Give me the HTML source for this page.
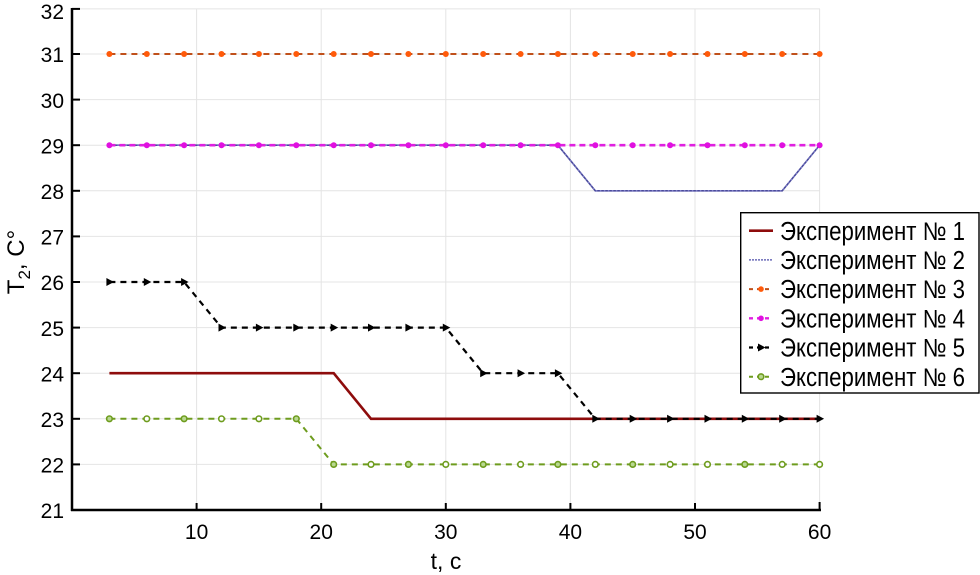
<!DOCTYPE html>
<html><head><meta charset="utf-8"><style>
html,body{margin:0;padding:0;background:#fff;}
svg{display:block;}
text{font-family:"Liberation Sans",Arial,sans-serif;fill:#000;}
</style></head><body>
<svg width="980" height="575" viewBox="0 0 980 575" xmlns="http://www.w3.org/2000/svg">
<!-- grid -->
<g stroke="#e4e4e4" stroke-width="1">
<line x1="72" y1="464.4" x2="820" y2="464.4"/>
<line x1="72" y1="418.8" x2="820" y2="418.8"/>
<line x1="72" y1="373.2" x2="820" y2="373.2"/>
<line x1="72" y1="327.6" x2="820" y2="327.6"/>
<line x1="72" y1="282" x2="820" y2="282"/>
<line x1="72" y1="236.4" x2="820" y2="236.4"/>
<line x1="72" y1="190.8" x2="820" y2="190.8"/>
<line x1="72" y1="145.2" x2="820" y2="145.2"/>
<line x1="72" y1="99.6" x2="820" y2="99.6"/>
<line x1="72" y1="54" x2="820" y2="54"/>
<line x1="72" y1="8.9" x2="820" y2="8.9"/>
<line x1="196.6" y1="9" x2="196.6" y2="510"/>
<line x1="321.2" y1="9" x2="321.2" y2="510"/>
<line x1="445.8" y1="9" x2="445.8" y2="510"/>
<line x1="570.4" y1="9" x2="570.4" y2="510"/>
<line x1="695" y1="9" x2="695" y2="510"/>
<line x1="819.6" y1="9" x2="819.6" y2="510"/>
</g>
<!-- axes -->
<g stroke="#000" stroke-width="2.5" fill="none">
<line x1="72" y1="8" x2="72" y2="511"/>
<line x1="71" y1="510" x2="821" y2="510"/>
</g>
<g stroke="#000" stroke-width="2">
<line x1="72" y1="8.9" x2="80" y2="8.9"/>
<line x1="72" y1="54" x2="80" y2="54"/>
<line x1="72" y1="99.6" x2="80" y2="99.6"/>
<line x1="72" y1="145.2" x2="80" y2="145.2"/>
<line x1="72" y1="190.8" x2="80" y2="190.8"/>
<line x1="72" y1="236.4" x2="80" y2="236.4"/>
<line x1="72" y1="282" x2="80" y2="282"/>
<line x1="72" y1="327.6" x2="80" y2="327.6"/>
<line x1="72" y1="373.2" x2="80" y2="373.2"/>
<line x1="72" y1="418.8" x2="80" y2="418.8"/>
<line x1="72" y1="464.4" x2="80" y2="464.4"/>
<line x1="196.6" y1="510" x2="196.6" y2="503"/>
<line x1="321.2" y1="510" x2="321.2" y2="503"/>
<line x1="445.8" y1="510" x2="445.8" y2="503"/>
<line x1="570.4" y1="510" x2="570.4" y2="503"/>
<line x1="695" y1="510" x2="695" y2="503"/>
<line x1="819.6" y1="510" x2="819.6" y2="502"/>
</g>
<!-- tick labels -->
<g font-size="21" text-anchor="end">
<text x="64" y="18.8">32</text>
<text x="64" y="62.2">31</text>
<text x="64" y="107.8">30</text>
<text x="64" y="153.4">29</text>
<text x="64" y="199">28</text>
<text x="64" y="244.6">27</text>
<text x="64" y="290.2">26</text>
<text x="64" y="335.8">25</text>
<text x="64" y="381.4">24</text>
<text x="64" y="427">23</text>
<text x="64" y="472.6">22</text>
<text x="64" y="518.2">21</text>
</g>
<g font-size="21" text-anchor="middle">
<text x="196.6" y="538.8">10</text>
<text x="321.2" y="538.8">20</text>
<text x="445.8" y="538.8">30</text>
<text x="570.4" y="538.8">40</text>
<text x="695" y="538.8">50</text>
<text x="819.6" y="538.8">60</text>
</g>
<text x="446" y="569" font-size="23" text-anchor="middle">t, c</text>
<text transform="translate(24,262) rotate(-90)" text-anchor="middle" font-size="24">T<tspan font-size="17" dy="6">2</tspan><tspan dy="-6">, C°</tspan></text>

<!-- Exp 1 -->
<polyline fill="none" stroke="#8e0c0c" stroke-width="2.6" points="109.4,373.2 333.7,373.2 371,418.8 819.6,418.8"/>
<!-- Exp 2 -->
<polyline fill="none" stroke="#4a4a9c" stroke-width="1.6" points="109.4,145.2 557.9,145.2 595.3,190.8 782.2,190.8 819.6,145.2"/>
<polyline fill="none" stroke="#8080c8" stroke-width="1.6" stroke-dasharray="1.5 2.5" points="109.4,145.2 557.9,145.2 595.3,190.8 782.2,190.8 819.6,145.2"/>
<!-- Exp 3 -->
<line x1="109.4" y1="54" x2="819.6" y2="54" stroke="#c0501a" stroke-width="2" stroke-dasharray="6 5"/>
<g fill="#ff5a0a">
<circle cx="109.4" cy="54" r="3"/><circle cx="146.8" cy="54" r="3"/><circle cx="184.1" cy="54" r="3"/><circle cx="221.5" cy="54" r="3"/><circle cx="258.9" cy="54" r="3"/><circle cx="296.3" cy="54" r="3"/><circle cx="333.7" cy="54" r="3"/><circle cx="371" cy="54" r="3"/><circle cx="408.4" cy="54" r="3"/><circle cx="445.8" cy="54" r="3"/><circle cx="483.2" cy="54" r="3"/><circle cx="520.6" cy="54" r="3"/><circle cx="557.9" cy="54" r="3"/><circle cx="595.3" cy="54" r="3"/><circle cx="632.7" cy="54" r="3"/><circle cx="670.1" cy="54" r="3"/><circle cx="707.5" cy="54" r="3"/><circle cx="744.8" cy="54" r="3"/><circle cx="782.2" cy="54" r="3"/><circle cx="819.6" cy="54" r="3"/>
</g>
<!-- Exp 4 -->
<line x1="109.4" y1="145.2" x2="819.6" y2="145.2" stroke="#e020e0" stroke-width="2.6" stroke-dasharray="6 4"/>
<g fill="#e010e0">
<circle cx="109.4" cy="145.2" r="3"/><circle cx="146.8" cy="145.2" r="3"/><circle cx="184.1" cy="145.2" r="3"/><circle cx="221.5" cy="145.2" r="3"/><circle cx="258.9" cy="145.2" r="3"/><circle cx="296.3" cy="145.2" r="3"/><circle cx="333.7" cy="145.2" r="3"/><circle cx="371" cy="145.2" r="3"/><circle cx="408.4" cy="145.2" r="3"/><circle cx="445.8" cy="145.2" r="3"/><circle cx="483.2" cy="145.2" r="3"/><circle cx="520.6" cy="145.2" r="3"/><circle cx="557.9" cy="145.2" r="3"/><circle cx="595.3" cy="145.2" r="3"/><circle cx="632.7" cy="145.2" r="3"/><circle cx="670.1" cy="145.2" r="3"/><circle cx="707.5" cy="145.2" r="3"/><circle cx="744.8" cy="145.2" r="3"/><circle cx="782.2" cy="145.2" r="3"/><circle cx="819.6" cy="145.2" r="3"/>
</g>
<!-- Exp 5 -->
<polyline fill="none" stroke="#000" stroke-width="2.2" stroke-dasharray="6 5" points="109.4,282 184.1,282 221.5,327.6 445.8,327.6 483.2,373.2 557.9,373.2 595.3,418.8 819.6,418.8"/>
<g fill="#000">
<path d="M106.4,278 l7.5,4 -7.5,4z"/><path d="M143.8,278 l7.5,4 -7.5,4z"/><path d="M181.1,278 l7.5,4 -7.5,4z"/>
<path d="M218.5,323.6 l7.5,4 -7.5,4z"/><path d="M255.9,323.6 l7.5,4 -7.5,4z"/><path d="M293.3,323.6 l7.5,4 -7.5,4z"/><path d="M330.7,323.6 l7.5,4 -7.5,4z"/><path d="M368,323.6 l7.5,4 -7.5,4z"/><path d="M405.4,323.6 l7.5,4 -7.5,4z"/><path d="M442.8,323.6 l7.5,4 -7.5,4z"/>
<path d="M480.2,369.2 l7.5,4 -7.5,4z"/><path d="M517.6,369.2 l7.5,4 -7.5,4z"/><path d="M554.9,369.2 l7.5,4 -7.5,4z"/>
<path d="M592.3,414.8 l7.5,4 -7.5,4z"/><path d="M629.7,414.8 l7.5,4 -7.5,4z"/><path d="M667.1,414.8 l7.5,4 -7.5,4z"/><path d="M704.5,414.8 l7.5,4 -7.5,4z"/><path d="M741.8,414.8 l7.5,4 -7.5,4z"/><path d="M779.2,414.8 l7.5,4 -7.5,4z"/><path d="M816.6,414.8 l7.5,4 -7.5,4z"/>
</g>
<!-- Exp 6 -->
<polyline fill="none" stroke="#6e9c1e" stroke-width="2" stroke-dasharray="6 5" points="109.4,418.8 296.3,418.8 333.7,464.4 819.6,464.4"/>
<g stroke="#6e9c1e" stroke-width="1.6" fill="#b8d890">
<circle cx="109.4" cy="418.8" r="2.8"/><circle cx="146.8" cy="418.8" r="2.8" fill="#fff"/><circle cx="184.1" cy="418.8" r="2.8"/><circle cx="221.5" cy="418.8" r="2.8" fill="#fff"/><circle cx="258.9" cy="418.8" r="2.8" fill="#fff"/><circle cx="296.3" cy="418.8" r="2.8"/>
<circle cx="333.7" cy="464.4" r="2.8"/><circle cx="371" cy="464.4" r="2.8" fill="#fff"/><circle cx="408.4" cy="464.4" r="2.8"/><circle cx="445.8" cy="464.4" r="2.8" fill="#fff"/><circle cx="483.2" cy="464.4" r="2.8"/><circle cx="520.6" cy="464.4" r="2.8" fill="#fff"/><circle cx="557.9" cy="464.4" r="2.8"/><circle cx="595.3" cy="464.4" r="2.8" fill="#fff"/><circle cx="632.7" cy="464.4" r="2.8"/><circle cx="670.1" cy="464.4" r="2.8" fill="#fff"/><circle cx="707.5" cy="464.4" r="2.8" fill="#fff"/><circle cx="744.8" cy="464.4" r="2.8"/><circle cx="782.2" cy="464.4" r="2.8" fill="#fff"/><circle cx="819.6" cy="464.4" r="2.8" fill="#fff"/>
</g>

<!-- Legend -->
<rect x="740.7" y="212.7" width="238.3" height="180.3" fill="#fff" stroke="#000" stroke-width="1.4"/>
<line x1="749" y1="230.7" x2="773" y2="230.7" stroke="#8e0c0c" stroke-width="2.6"/>
<line x1="749" y1="259.9" x2="773" y2="259.9" stroke="#6a6ab8" stroke-width="1.5" stroke-dasharray="2 1"/>
<line x1="749" y1="289.1" x2="773" y2="289.1" stroke="#c0501a" stroke-width="2" stroke-dasharray="4 4"/>
<circle cx="761" cy="289.1" r="2.8" fill="#ff5a0a"/>
<line x1="749" y1="318.3" x2="773" y2="318.3" stroke="#e020e0" stroke-width="2.4" stroke-dasharray="4 4"/>
<circle cx="761" cy="318.3" r="2.8" fill="#e010e0"/>
<line x1="749" y1="347.5" x2="773" y2="347.5" stroke="#000" stroke-width="2.2" stroke-dasharray="4 4"/>
<path d="M758,343.5 l7.5,4 -7.5,4z" fill="#000"/>
<line x1="749" y1="376.7" x2="773" y2="376.7" stroke="#6e9c1e" stroke-width="2" stroke-dasharray="4 4"/>
<circle cx="761" cy="376.7" r="2.8" fill="#b8d890" stroke="#6e9c1e" stroke-width="1.6"/>
<g font-size="25.5">
<text x="780" y="239.8" textLength="185" lengthAdjust="spacingAndGlyphs">Эксперимент № 1</text>
<text x="780" y="269" textLength="185" lengthAdjust="spacingAndGlyphs">Эксперимент № 2</text>
<text x="780" y="298.2" textLength="185" lengthAdjust="spacingAndGlyphs">Эксперимент № 3</text>
<text x="780" y="327.4" textLength="185" lengthAdjust="spacingAndGlyphs">Эксперимент № 4</text>
<text x="780" y="356.6" textLength="185" lengthAdjust="spacingAndGlyphs">Эксперимент № 5</text>
<text x="780" y="385.8" textLength="185" lengthAdjust="spacingAndGlyphs">Эксперимент № 6</text>
</g>
</svg>
</body></html>
